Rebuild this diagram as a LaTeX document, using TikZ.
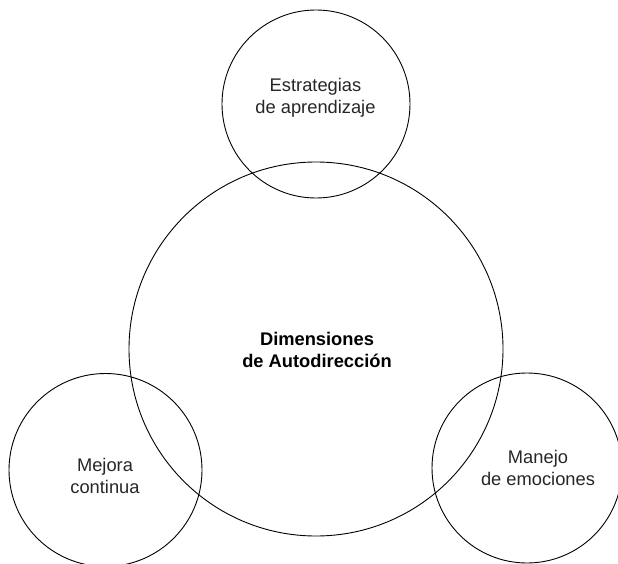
\documentclass[tikz,border=0pt]{standalone}
\usepackage{fontspec}
\setmainfont{Liberation Sans}
\begin{document}
\begin{tikzpicture}[x=1pt,y=-1pt,
  ring/.style={draw=black,line width=0.9pt,circle},
  lbl/.style={align=center,font=\fontsize{18.3}{22}\selectfont,text=black!85}]
\useasboundingbox (0,0) rectangle (618,564);
\begin{scope}
\clip (0,0) rectangle (618,564);
\draw[ring] (316,349) circle (187);
\draw[ring] (316,104) circle (94);
\draw[ring] (105.5,470) circle (96.5);
\draw[ring] (527,468) circle (95);
\end{scope}
\node[lbl] (top) at (315.5,98) {Estrategias\\de aprendizaje};
\node[lbl,font=\fontsize{18.3}{22}\selectfont\bfseries,text=black] (mid) at (317,350) {Dimensiones\\de Autodirección};
\node[lbl] (left) at (105,476) {Mejora\\continua};
\node[lbl] (right) at (538,467.5) {Manejo\\de emociones};
\end{tikzpicture}
\end{document}
